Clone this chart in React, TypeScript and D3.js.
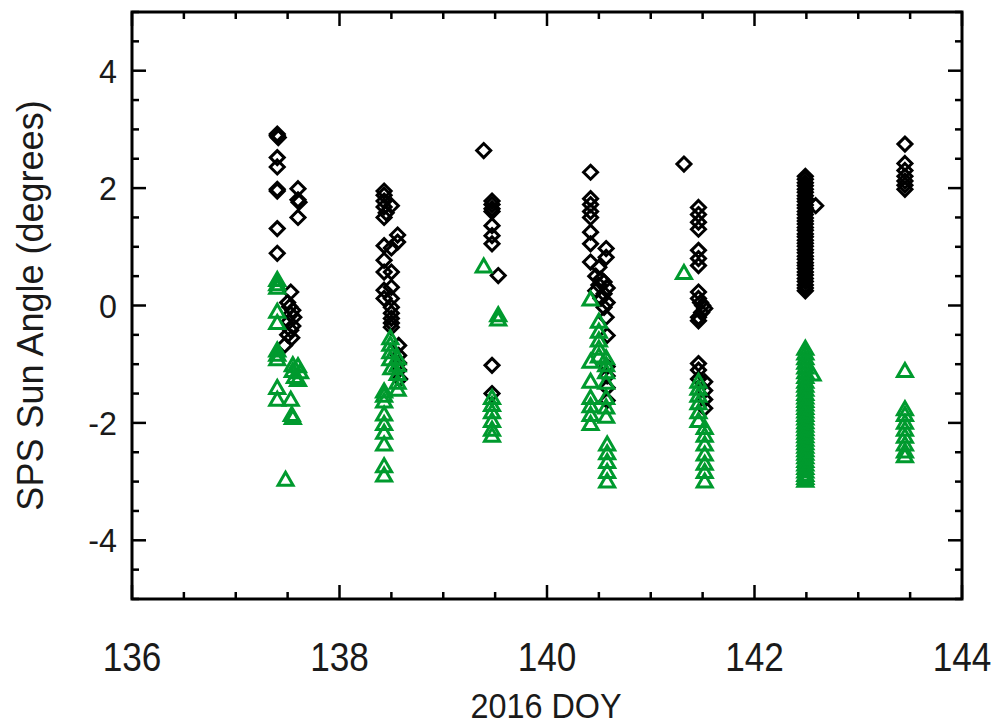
import React from "react";
import * as d3 from "d3";

const W = 995;
const H = 726;

const xTicksMajor = [136, 138, 140, 142, 144];
const yTicksMajor = [-4, -2, 0, 2, 4];

// SPS sun angle, black diamonds: [DOY, degrees]
const blackPoints: [number, number][] = [
  [137.40, 2.92], [137.40, 2.89], [137.41, 2.86], [137.40, 2.52], [137.40, 2.36], [137.40, 1.98], [137.40, 1.95],
  [137.60, 1.99], [137.60, 1.80], [137.61, 1.76], [137.60, 1.50], [137.40, 1.31], [137.40, 0.89], [137.53, 0.23],
  [137.50, 0.05], [137.52, -0.02], [137.55, -0.08], [137.53, -0.15], [137.56, -0.20], [137.51, -0.28], [137.55, -0.35],
  [137.53, -0.42], [137.50, -0.50], [137.54, -0.55], [137.47, -0.68],
  [138.43, 1.95], [138.43, 1.88], [138.43, 1.78], [138.43, 1.68], [138.45, 1.58], [138.43, 1.50], [138.50, 1.70],
  [138.56, 1.20], [138.56, 1.08], [138.43, 1.02], [138.50, 0.98], [138.43, 0.77], [138.43, 0.57], [138.50, 0.57],
  [138.43, 0.26], [138.50, 0.31], [138.43, 0.12], [138.50, 0.12], [138.50, -0.03], [138.50, -0.13], [138.50, -0.22],
  [138.50, -0.30], [138.50, -0.37], [138.57, -0.68], [138.57, -0.85], [138.57, -0.98], [138.57, -1.10], [138.58, -1.25],
  [139.39, 2.64], [139.47, 1.78], [139.47, 1.72], [139.47, 1.65], [139.47, 1.60], [139.47, 1.36], [139.47, 1.19],
  [139.47, 1.05], [139.53, 0.51], [139.47, -1.02], [139.47, -1.50],
  [140.42, 2.27], [140.42, 1.82], [140.42, 1.72], [140.42, 1.60], [140.42, 1.50], [140.42, 1.25], [140.42, 1.05],
  [140.57, 0.97], [140.57, 0.82], [140.42, 0.74], [140.50, 0.65], [140.47, 0.50], [140.52, 0.45], [140.55, 0.40],
  [140.50, 0.35], [140.58, 0.30], [140.47, 0.25], [140.55, 0.20], [140.52, 0.12], [140.58, 0.05], [140.55, -0.03],
  [140.57, -0.20], [140.58, -0.51], [140.58, -1.04], [140.58, -1.20], [140.58, -1.40], [140.58, -1.62],
  [141.32, 2.41], [141.46, 1.67], [141.46, 1.55], [141.46, 1.42], [141.46, 1.30], [141.46, 0.94], [141.46, 0.80],
  [141.46, 0.68], [141.46, 0.23], [141.46, 0.12], [141.48, 0.05], [141.50, 0.00], [141.52, -0.05], [141.49, -0.12],
  [141.46, -0.20], [141.46, -0.26], [141.46, -0.99], [141.46, -1.10], [141.46, -1.25], [141.52, -1.30], [141.52, -1.45],
  [141.52, -1.60], [141.52, -1.75],
  [142.49, 2.20], [142.49, 2.15], [142.49, 2.09], [142.49, 2.04], [142.49, 1.98], [142.49, 1.93], [142.49, 1.87],
  [142.49, 1.82], [142.49, 1.77], [142.49, 1.71], [142.49, 1.66], [142.49, 1.60], [142.49, 1.55], [142.49, 1.49],
  [142.49, 1.44], [142.49, 1.39], [142.49, 1.33], [142.49, 1.28], [142.49, 1.22], [142.49, 1.17], [142.49, 1.11],
  [142.49, 1.06], [142.49, 1.01], [142.49, 0.95], [142.49, 0.90], [142.49, 0.84], [142.49, 0.79], [142.49, 0.73],
  [142.49, 0.68], [142.49, 0.63], [142.49, 0.57], [142.49, 0.52], [142.49, 0.46], [142.49, 0.41], [142.49, 0.35],
  [142.49, 0.30], [142.49, 0.25], [142.59, 1.70],
  [143.45, 2.75], [143.45, 2.42], [143.45, 2.30], [143.45, 2.20], [143.45, 2.12], [143.45, 2.05], [143.45, 1.98],
];

// SPS sun angle, green triangles: [DOY, degrees]
const greenPoints: [number, number][] = [
  [137.40, 0.45], [137.40, 0.38], [137.40, 0.32], [137.40, -0.09], [137.40, -0.28], [137.40, -0.75], [137.40, -0.82],
  [137.40, -0.90], [137.55, -1.00], [137.60, -1.02], [137.55, -1.10], [137.62, -1.12], [137.57, -1.20], [137.60, -1.25],
  [137.40, -1.39], [137.40, -1.59], [137.53, -1.59], [137.54, -1.85], [137.55, -1.90], [137.48, -2.95],
  [138.49, -0.54], [138.49, -0.65], [138.49, -0.78], [138.49, -0.90], [138.50, -1.05], [138.56, -0.88], [138.56, -1.00],
  [138.56, -1.15], [138.56, -1.30], [138.56, -1.42], [138.43, -1.45], [138.43, -1.52], [138.43, -1.62], [138.43, -1.84],
  [138.43, -2.00], [138.43, -2.15], [138.43, -2.35], [138.43, -2.72], [138.43, -2.88],
  [139.39, 0.68], [139.53, -0.15], [139.53, -0.22], [139.47, -1.56], [139.47, -1.68], [139.47, -1.80], [139.47, -1.95],
  [139.47, -2.10], [139.47, -2.20],
  [140.42, 0.12], [140.50, -0.26], [140.50, -0.43], [140.50, -0.58], [140.50, -0.72], [140.50, -0.85], [140.42, -0.94],
  [140.57, -0.88], [140.57, -1.00], [140.57, -1.12], [140.57, -1.30], [140.42, -1.28], [140.42, -1.56], [140.42, -1.70],
  [140.42, -1.85], [140.42, -2.00], [140.57, -1.56], [140.57, -1.72], [140.57, -1.88], [140.58, -2.35], [140.58, -2.50],
  [140.58, -2.65], [140.58, -2.82], [140.58, -2.98],
  [141.32, 0.57], [141.46, -1.28], [141.46, -1.40], [141.46, -1.52], [141.46, -1.65], [141.46, -1.80], [141.46, -1.95],
  [141.52, -2.07], [141.52, -2.20], [141.52, -2.35], [141.52, -2.52], [141.52, -2.68], [141.52, -2.82], [141.52, -2.98],
  [142.49, -0.72], [142.49, -0.80], [142.49, -0.88], [142.49, -0.96], [142.49, -1.04], [142.56, -1.16], [142.49, -1.12],
  [142.49, -1.20], [142.49, -1.28], [142.49, -1.35], [142.49, -1.42], [142.49, -1.49], [142.49, -1.55], [142.49, -1.61],
  [142.49, -1.67], [142.49, -1.73], [142.49, -1.79], [142.49, -1.85], [142.49, -1.91], [142.49, -1.97], [142.49, -2.03],
  [142.49, -2.09], [142.49, -2.15], [142.49, -2.21], [142.49, -2.27], [142.49, -2.33], [142.49, -2.39], [142.49, -2.45],
  [142.49, -2.51], [142.49, -2.57], [142.49, -2.63], [142.49, -2.69], [142.49, -2.75], [142.49, -2.81], [142.49, -2.87],
  [142.49, -2.92], [142.49, -2.97],
  [143.45, -1.10], [143.45, -1.75], [143.45, -1.85], [143.45, -1.98], [143.45, -2.10], [143.45, -2.22], [143.45, -2.35],
  [143.45, -2.47], [143.45, -2.55],
];

const FONT = "'Liberation Sans', Arial, Helvetica, sans-serif";
const GREEN = "#009a2e";
const TEXT = "#1a1a1a";

export default function App() {
  const left = 132, right = 962, top = 12, bottom = 599;
  const x = d3.scaleLinear().domain([136, 144]).range([left, right]);
  const y = d3.scaleLinear().domain([-5, 5]).range([bottom, top]);

  const xMinor = d3.range(136, 144.001, 0.5);
  const yMinor = d3.range(-5, 5.001, 0.5);
  const majLen = 14, minLen = 7;

  const diamond = (cx: number, cy: number) => {
    const r = 7;
    return `M${cx},${cy - r}L${cx + r},${cy}L${cx},${cy + r}L${cx - r},${cy}Z`;
  };
  const tri = (cx: number, cy: number) => {
    const hw = 7.5, hh = 6.5;
    return `M${cx - hw},${cy + hh}L${cx},${cy - hh}L${cx + hw},${cy + hh}Z`;
  };

  const isMajor = (v: number) => Math.abs(v / 2 - Math.round(v / 2)) < 1e-6;

  return (
    <svg width={W} height={H} style={{ position: "absolute", left: 0, top: 0, background: "#fff" }}>
      <rect x={0} y={0} width={W} height={H} fill="#fff" />
      {blackPoints.map((p, i) => (
        <path key={"b" + i} d={diamond(x(p[0]), y(p[1]))} fill="none" stroke="#000" strokeWidth={3} />
      ))}
      {greenPoints.map((p, i) => (
        <path key={"g" + i} d={tri(x(p[0]), y(p[1]))} fill="none" stroke={GREEN} strokeWidth={3} />
      ))}
      {xMinor.map((v, i) => {
        const len = isMajor(v) ? majLen : minLen;
        return (
          <g key={"xt" + i}>
            <line x1={x(v)} x2={x(v)} y1={bottom} y2={bottom - len} stroke="#000" strokeWidth={2.5} />
            <line x1={x(v)} x2={x(v)} y1={top} y2={top + len} stroke="#000" strokeWidth={2.5} />
          </g>
        );
      })}
      {yMinor.map((v, i) => {
        const len = isMajor(v) ? majLen : minLen;
        return (
          <g key={"yt" + i}>
            <line x1={left} x2={left + len} y1={y(v)} y2={y(v)} stroke="#000" strokeWidth={2.5} />
            <line x1={right} x2={right - len} y1={y(v)} y2={y(v)} stroke="#000" strokeWidth={2.5} />
          </g>
        );
      })}
      <rect x={left} y={top} width={right - left} height={bottom - top} fill="none" stroke="#000" strokeWidth={3} />
      {xTicksMajor.map((v) => (
        <text
          key={"xl" + v}
          transform={`translate(${x(v)}, 671) scale(0.88, 1)`}
          textAnchor="middle"
          fontFamily={FONT}
          fontSize={40}
          fill={TEXT}
        >
          {v}
        </text>
      ))}
      {yTicksMajor.map((v) => (
        <text
          key={"yl" + v}
          transform={`translate(117, ${y(v) + 12}) scale(0.95, 1)`}
          textAnchor="end"
          fontFamily={FONT}
          fontSize={34}
          fill={TEXT}
        >
          {v}
        </text>
      ))}
      <text
        transform={`translate(${(left + right) / 2 - 1}, 718) scale(0.9, 1)`}
        textAnchor="middle"
        fontFamily={FONT}
        fontSize={36}
        fill={TEXT}
      >
        2016 DOY
      </text>
      <text
        transform={`translate(43, ${(top + bottom) / 2}) rotate(-90)`}
        textAnchor="middle"
        fontFamily={FONT}
        fontSize={36}
        fill={TEXT}
      >
        SPS Sun Angle (degrees)
      </text>
    </svg>
  );
}
